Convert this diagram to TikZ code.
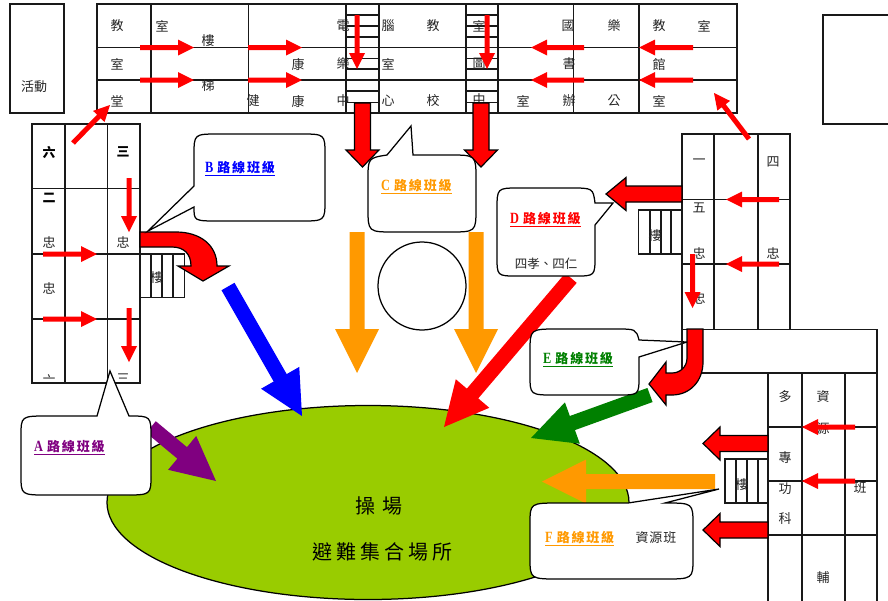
\documentclass[tikz,border=0pt]{standalone}
\usepackage{fontspec}
\setmainfont{Noto Sans CJK TC}
\newfontfamily\latinb[BoldFont=Liberation Serif Bold]{Liberation Serif}
\usetikzlibrary{calc}
\definecolor{fieldgreen}{HTML}{99CC00}
\definecolor{routeorange}{HTML}{FF9900}
\definecolor{routegreen}{HTML}{008000}
\definecolor{routepurple}{HTML}{800080}
\newcommand\blockarrow[6][]{%
  \coordinate (ba) at #2; \coordinate (bb) at #3;
  \coordinate (bh) at ($(bb)!#5pt!(ba)$);
  \path[#1] ($(ba)!0.5*#4pt!90:(bb)$) -- ($(bh)!0.5*#4pt!-90:(ba)$) -- ($(bh)!0.5*#6pt!-90:(ba)$) -- (bb)
    -- ($(bh)!0.5*#6pt!90:(ba)$) -- ($(bh)!0.5*#4pt!90:(ba)$) -- ($(ba)!0.5*#4pt!-90:(bb)$) -- cycle;
}
\newcommand\thinarrow[2]{\blockarrow[fill=red]{#1}{#2}{5}{16}{16}}
\newcommand\bigred[2]{\blockarrow[bigredstyle]{#1}{#2}{16}{17}{33}}
\newcommand\flow[3]{\blockarrow[fill=#1]{#2}{#3}{15}{44}{44}}
\newcommand\routelabel[5]{%
  \node[routelbl,text=#1] (#2) at #3 {\latinb\bfseries\scalebox{0.95}[1.2]{#4}\hspace{4pt}\normalfont\bfseries\addfontfeature{LetterSpace=14}#5};
  \draw[#1,line width=0.9pt] ($(#2.south west)+(0,1)$) -- ($(#2.south east)+(0,1)$);
}
\tikzset{
  wall/.style={draw=black!90,line width=1.25pt},
  bubble/.style={draw=black,fill=white,line width=1.25pt},
  bigredstyle/.style={draw=black,fill=red,line width=1.2pt,line join=miter},
  room/.style={inner sep=0pt,font=\fontsize{13}{13}\selectfont,text=black!85},
  roomb/.style={inner sep=0pt,font=\fontsize{13}{13}\selectfont\bfseries},
  routelbl/.style={inner sep=0pt,anchor=west,font=\fontsize{13}{13}\selectfont,text height=11pt,text depth=2pt},
  ground/.style={inner sep=0pt,font=\fontsize{20}{20}\selectfont}
}
\begin{document}
\begin{tikzpicture}[x=1pt,y=-1pt]
\clip (0,0) rectangle (888,600);
\fill[white] (0,0) rectangle (888,600);
% field
\draw[fill=fieldgreen,line width=1.25pt] (368,502.5) ellipse [x radius=261,y radius=97];
\node[ground] (fa) at (379,506) {操\hspace{7pt}場};
\node[ground] (fb) at (382.5,552) {避\hspace{4pt}難\hspace{4pt}集\hspace{4pt}合\hspace{4pt}場\hspace{4pt}所};
\draw[fill=white,line width=1.25pt] (422,286) circle (44);
% coloured route arrows
\flow{blue}{(228,286.5)}{(302,416)}
\flow{routeorange}{(357,232)}{(357,373)}
\flow{routeorange}{(476,232)}{(476,373)}
\flow{red}{(571,278)}{(444,427)}
\flow{routegreen}{(650,395)}{(531,438)}
\flow{routeorange}{(715,481.5)}{(542,481.5)}
\flow{routepurple}{(151,427)}{(216,481)}
% callout E lies under the buildings
\draw[bubble] (555,395) -- (618,395) .. controls (639,395) .. (639,376) -- (639,357) -- (687,342) -- (639,340)
  .. controls (636,329) .. (615,329) -- (558,329) .. controls (530,329) .. (530,352) -- (530,375) .. controls (530,395) .. (555,395) -- cycle;
% buildings
\draw[wall] (10,4) rectangle (64,113);
\draw[wall] (823,15) rectangle (900,124);
\draw[wall] (97,4) rectangle (737,113);
\draw[wall] (97,47.5) -- (737,47.5) (97,80) -- (737,80);
\foreach \x in {151,248.5,346,379,466,498,573.5,639} \draw[wall] (\x,4) -- (\x,113);
\foreach \y in {15,26,37,58.5,69,91,102.5} {
  \draw[wall] (346,\y) -- (379,\y);
  \draw[wall] (466,\y) -- (498,\y);
}
\draw[wall] (32,124) rectangle (140,383);
\foreach \x in {65,107.5} \draw[wall] (\x,124) -- (\x,383);
\foreach \y in {188.5,254,319} \draw[wall] (32,\y) -- (140,\y);
\draw[wall] (140,254) rectangle (184.5,297.5);
\foreach \x in {151,162,173} \draw[wall] (\x,254) -- (\x,297.5);
\draw[wall] (682,134) rectangle (790,329.5);
\foreach \x in {714,758} \draw[wall] (\x,134) -- (\x,329.5);
\foreach \y in {199.5,264} \draw[wall] (682,\y) -- (790,\y);
\draw[wall] (638.5,210) rectangle (682,254);
\foreach \x in {650,661,671} \draw[wall] (\x,210) -- (\x,254);
\draw[wall] (682,329.5) rectangle (877,373);
\draw[wall] (768,373) rectangle (877,610);
\foreach \x in {802,845} \draw[wall] (\x,373) -- (\x,610);
\foreach \y in {427,481,535} \draw[wall] (768,\y) -- (877,\y);
\draw[wall] (725,459) rectangle (768,503);
\foreach \x in {736,747,758} \draw[wall] (\x,459) -- (\x,503);
% room texts
\node[room] (t0) at (34,87) {活動};
\foreach \tx/\ty/\tc [count=\i] in {
 117/26/教,162/26/室,208/41/樓,117/64/室,208/86/梯,117/101/堂,
 343/26/電,298/64/康,343/64/樂,253/101/健,298/101/康,343/101/中,
 388/26/腦,433/26/教,479/26/室,388/64/室,479/64/圖,388/101/心,433/101/校,479/100/中,
 568/26/國,614/26/樂,659/26/教,704/26/室,569/64/書,659/64/館,523/101/室,569/101/辦,614/101/公,659/101/室,
 49/242/忠,123/242/忠,49/288/忠,157/278/樓,
 699/162/一,773/162/四,699/208/五,699/253/忠,773/253/忠,699/298/忠,655/236/樓,
 785/397/多,823/397/資,823/429/源,785/458/專,785/489/功,785/519/科,860/488/班,823/578/輔,742/485/樓}
 {\node[room] (r\i) at (\tx,\ty) {\tc};}
\node[roomb] (b1) at (49,152) {六};
\node[roomb] (b2) at (123,152) {三};
\node[roomb] (b3) at (49,198) {二};
\begin{scope}
\clip (40,368) rectangle (60,378);
\node[room] (c1) at (49,381) {六};
\end{scope}
\begin{scope}
\clip (114,368) rectangle (132,378);
\node[room] (c2) at (123,379) {三};
\end{scope}
% thin red arrows
\thinarrow{(140,47.5)}{(194,47.5)}
\thinarrow{(140,80)}{(194,80)}
\thinarrow{(248,47.5)}{(302,47.5)}
\thinarrow{(248,80)}{(302,80)}
\thinarrow{(357,15)}{(357,69)}
\thinarrow{(487,15)}{(487,69)}
\thinarrow{(584,47.5)}{(531,47.5)}
\thinarrow{(584,80)}{(531,80)}
\thinarrow{(693,47.5)}{(639,47.5)}
\thinarrow{(693,80)}{(639,80)}
\thinarrow{(73,143)}{(110,105)}
\thinarrow{(749,139)}{(714,93)}
\thinarrow{(129,178)}{(129,232)}
\thinarrow{(129,308)}{(129,362)}
\thinarrow{(43,254)}{(97,254)}
\thinarrow{(43,319)}{(97,319)}
\thinarrow{(779,199.5)}{(726,199.5)}
\thinarrow{(779,264)}{(726,264)}
\thinarrow{(692.5,254)}{(692.5,308)}
\thinarrow{(855,427)}{(802,427)}
\thinarrow{(855,481)}{(802,481)}
% big red exit arrows
\bigred{(362.5,103)}{(362.5,167)}
\bigred{(481,103)}{(481,167)}
\blockarrow[bigredstyle]{(682,194)}{(606,194)}{16}{20}{33}
\blockarrow[bigredstyle]{(768,443.5)}{(703,443.5)}{16}{17}{33}
\blockarrow[bigredstyle]{(768,530)}{(703,530)}{16}{17}{33}
\draw[bigredstyle] (140,232) -- (176,232) .. controls (200,232) and (217,245) .. (217,266) -- (229,266) -- (203,281)
  -- (178,266) -- (191,266) .. controls (191,254) and (184,247) .. (172,247) -- (140,247) -- cycle;
\draw[bigredstyle] (687,329) -- (687,358) .. controls (687,367) and (680,373) .. (672,373) -- (666,373) -- (666,362)
  -- (649,384) -- (666,405) -- (666,395) -- (672,395) .. controls (690,395) and (703,381) .. (703,362) -- (703,329) -- cycle;
% callouts
\draw[bubble] (219,221) -- (300,221) .. controls (325,221) .. (325,200) -- (325,155) .. controls (325,134) .. (300,134)
  -- (219,134) .. controls (194,134) .. (194,155) -- (194,186) -- (148,231) -- (194,207) .. controls (194,221) .. (219,221) -- cycle;
\draw[bubble] (395,232) -- (449,232) .. controls (476,232) .. (476,208) -- (476,179) .. controls (476,155) .. (449,155)
  -- (413,155) -- (411,126) -- (387,155) .. controls (368,158) .. (368,180) -- (368,208) .. controls (368,232) .. (395,232) -- cycle;
\draw[bubble] (517,276) -- (575,276) .. controls (595,276) .. (595,256) -- (595,225) -- (613,203) -- (595,203)
  .. controls (593,188) .. (570,188) -- (519,188) .. controls (497,188) .. (497,210) -- (497,256) .. controls (497,276) .. (517,276) -- cycle;
\draw[bubble] (48,495) -- (124,495) .. controls (151,495) .. (151,475) -- (151,438) .. controls (151,416) .. (129,416)
  -- (110,371) -- (97,416) -- (48,416) .. controls (21,416) .. (21,436) -- (21,475) .. controls (21,495) .. (48,495) -- cycle;
\draw[bubble] (560,579) -- (663,579) .. controls (693,579) .. (693,558) -- (693,525) .. controls (693,503) .. (665,503)
  -- (719,489) -- (628,503) -- (560,503) .. controls (530,503) .. (530,524) -- (530,558) .. controls (530,579) .. (560,579) -- cycle;
% callout texts
\routelabel{routepurple}{la}{(34,447)}{A}{路線班級}
\routelabel{blue}{lb}{(205,168)}{B}{路線班級}
\routelabel{routeorange}{lc}{(381,186)}{C}{路線班級}
\routelabel{red}{ld}{(510,219)}{D}{路線班級}
\routelabel{routegreen}{le}{(543,359)}{E}{路線班級}
\routelabel{routeorange}{lf}{(545,538)}{F}{路線班級}
\node[room] (tf) at (656,538) {資\hspace{1pt}源\hspace{1pt}班};
\node[room,font=\fontsize{12.5}{13}\selectfont] (td) at (546,264) {四孝、四仁};
\end{tikzpicture}
\end{document}
